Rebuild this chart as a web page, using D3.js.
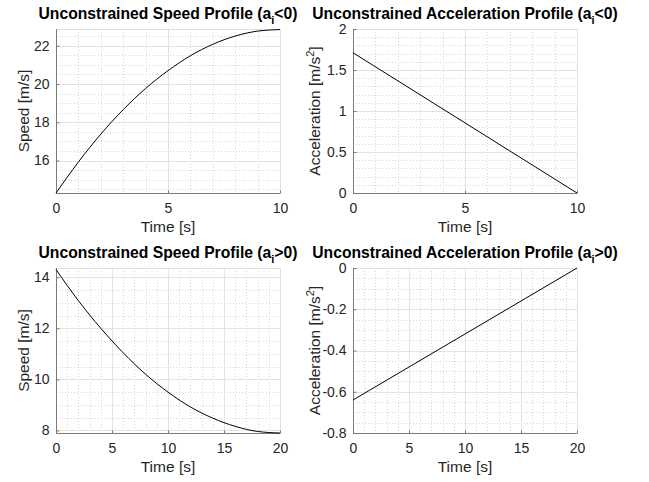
<!DOCTYPE html>
<html>
<head>
<meta charset="utf-8">
<script src="https://cdn.jsdelivr.net/npm/d3@7"></script>
<style>
  body { margin: 0; background: #fff; }
  svg { display: block; font-family: "Liberation Sans", Arial, sans-serif; }
</style>
</head>
<body>
<div id="chart"></div>
<script>
// speed / acceleration
const timeNeg = [0, 1, 2, 3, 4, 5, 6, 7, 8, 9, 10];
const speedNeg = [14.30, 15.92, 17.38, 18.66, 19.77, 20.70, 21.48, 22.08, 22.51, 22.77, 22.85];
const accTimeNeg = [0, 10];
const accNeg = [1.71, 0];

const timePos = [0, 2, 4, 6, 8, 10, 12, 14, 16, 18, 20];
const speedPos = [14.30, 13.08, 12.00, 11.04, 10.20, 9.50, 8.92, 8.48, 8.16, 7.96, 7.90];
const accTimePos = [0, 20];
const accPos = [-0.64, 0];

// tick labels
const xTicks10 = [0, 5, 10];
const xTicks20 = [0, 5, 10, 15, 20];
const yTicksSpeedNeg = [16, 18, 20, 22];
const yTicksAccNeg = [0, 0.5, 1, 1.5, 2];
const yTicksSpeedPos = [8, 10, 12, 14];
const yTicksAccPos = [-0.8, -0.6, -0.4, -0.2, 0];

const width = 649, height = 482;
const svg = d3.select("#chart").append("svg")
  .attr("width", width)
  .attr("height", height);

const textColor = "#262626";

function drawPanel(opt) {
  const x = d3.scaleLinear().domain(opt.xDomain).range([opt.left, opt.right]);
  const y = d3.scaleLinear().domain(opt.yDomain).range([opt.bottom, opt.top]);
  const g = svg.append("g");

  // minor grid
  const xMinor = d3.range(opt.xDomain[0], opt.xDomain[1] + 1e-9, opt.xMinor)
    .filter(v => !opt.xTicks.some(t => Math.abs(t - v) < 1e-9));
  const yStart = Math.ceil(opt.yDomain[0] / opt.yMinor) * opt.yMinor;
  const yMinor = d3.range(yStart, opt.yDomain[1] + 1e-9, opt.yMinor)
    .filter(v => !opt.yTicks.some(t => Math.abs(t - v) < 1e-9));

  g.selectAll(".xminor").data(xMinor).join("line")
    .attr("x1", d => Math.round(x(d)) + 0.5).attr("x2", d => Math.round(x(d)) + 0.5)
    .attr("y1", opt.top).attr("y2", opt.bottom)
    .attr("stroke", "#d6d6d6").attr("stroke-dasharray", "1,2");
  g.selectAll(".yminor").data(yMinor).join("line")
    .attr("y1", d => Math.round(y(d)) + 0.5).attr("y2", d => Math.round(y(d)) + 0.5)
    .attr("x1", opt.left).attr("x2", opt.right)
    .attr("stroke", "#d6d6d6").attr("stroke-dasharray", "1,2");

  // major grid
  g.selectAll(".xmajor").data(opt.xTicks).join("line")
    .attr("x1", d => Math.round(x(d)) + 0.5).attr("x2", d => Math.round(x(d)) + 0.5)
    .attr("y1", opt.top).attr("y2", opt.bottom)
    .attr("stroke", "#e3e3e3");
  g.selectAll(".ymajor").data(opt.yTicks).join("line")
    .attr("y1", d => Math.round(y(d)) + 0.5).attr("y2", d => Math.round(y(d)) + 0.5)
    .attr("x1", opt.left).attr("x2", opt.right)
    .attr("stroke", "#e3e3e3");

  // top / right frame
  g.append("path")
    .attr("d", `M${opt.left},${opt.top + 0.5}H${opt.right + 0.5}V${opt.bottom}`)
    .attr("fill", "none").attr("stroke", "#e0e0e0");

  // axes
  const xAxis = d3.axisBottom(x).tickValues(opt.xTicks).tickSize(-3).tickPadding(10)
    .tickFormat(d3.format("d"));
  const yAxis = d3.axisLeft(y).tickValues(opt.yTicks).tickSize(-3).tickPadding(7)
    .tickFormat(d => String(d));

  const gx = g.append("g").attr("transform", `translate(0,${opt.bottom + 0.5})`).call(xAxis);
  const gy = g.append("g").attr("transform", `translate(${opt.left + 0.5},0)`).call(yAxis);
  [gx, gy].forEach(a => {
    a.select(".domain").attr("stroke", "#7a7a7a");
    a.selectAll(".tick line").attr("stroke", "#7a7a7a");
    a.selectAll(".tick text").attr("fill", textColor)
      .style("font-size", "14px").style("font-family", "Liberation Sans, Arial, sans-serif");
  });
  gy.select(".domain").attr("d", `M0,${opt.top}V${opt.bottom}`);
  gx.select(".domain").attr("d", `M${opt.left},0H${opt.right}`);

  // data line
  const line = d3.line()
    .x((d, i) => x(opt.xs[i]))
    .y(d => y(d))
    .curve(d3.curveMonotoneX);
  g.append("path")
    .datum(opt.ys)
    .attr("d", line)
    .attr("fill", "none")
    .attr("stroke", "#000")
    .attr("stroke-width", 1);

  // x label
  g.append("text")
    .attr("x", (opt.left + opt.right) / 2)
    .attr("y", opt.bottom + 39)
    .attr("text-anchor", "middle")
    .attr("fill", textColor)
    .style("font-size", "15.5px")
    .text("Time [s]");

  // y label
  const yl = g.append("text")
    .attr("transform", `translate(${opt.yLabelX},${(opt.top + opt.bottom) / 2}) rotate(-90)`)
    .attr("text-anchor", "middle")
    .attr("fill", textColor)
    .style("font-size", "15.5px");
  yl.append("tspan").text(opt.yLabel);
  if (opt.yLabelSup) {
    yl.append("tspan").attr("dy", -6).style("font-size", "11px").text(opt.yLabelSup);
    yl.append("tspan").attr("dy", 6).text("]");
  }

  // title
  const t = g.append("text")
    .attr("x", (opt.left + opt.right) / 2)
    .attr("y", opt.titleY)
    .attr("text-anchor", "middle")
    .attr("fill", "#000")
    .style("font-size", "15.7px")
    .style("font-weight", "bold");
  t.append("tspan").text(opt.title + " (a");
  t.append("tspan").attr("dy", 5).style("font-size", "11px").text("i");
  t.append("tspan").attr("dy", -5).text(opt.titleSign + "0)");
}

drawPanel({
  left: 56, right: 280, top: 29, bottom: 193, titleY: 19, yLabelX: 29,
  xDomain: [0, 10], yDomain: [14.3, 22.88], xTicks: xTicks10, yTicks: yTicksSpeedNeg,
  xMinor: 1, yMinor: 0.5, xs: timeNeg, ys: speedNeg,
  yLabel: "Speed [m/s]", title: "Unconstrained Speed Profile", titleSign: "<"
});
drawPanel({
  left: 353, right: 577, top: 29, bottom: 193, titleY: 19, yLabelX: 320,
  xDomain: [0, 10], yDomain: [0, 2], xTicks: xTicks10, yTicks: yTicksAccNeg,
  xMinor: 1, yMinor: 0.1, xs: accTimeNeg, ys: accNeg,
  yLabel: "Acceleration [m/s", yLabelSup: "2",
  title: "Unconstrained Acceleration Profile", titleSign: "<"
});
drawPanel({
  left: 56, right: 280, top: 268, bottom: 433, titleY: 258, yLabelX: 29,
  xDomain: [0, 20], yDomain: [7.9, 14.36], xTicks: xTicks20, yTicks: yTicksSpeedPos,
  xMinor: 1, yMinor: 0.5, xs: timePos, ys: speedPos,
  yLabel: "Speed [m/s]", title: "Unconstrained Speed Profile", titleSign: ">"
});
drawPanel({
  left: 353, right: 577, top: 268, bottom: 433, titleY: 258, yLabelX: 320,
  xDomain: [0, 20], yDomain: [-0.8, 0], xTicks: xTicks20, yTicks: yTicksAccPos,
  xMinor: 1, yMinor: 0.05, xs: accTimePos, ys: accPos,
  yLabel: "Acceleration [m/s", yLabelSup: "2",
  title: "Unconstrained Acceleration Profile", titleSign: ">"
});
</script>
</body>
</html>
